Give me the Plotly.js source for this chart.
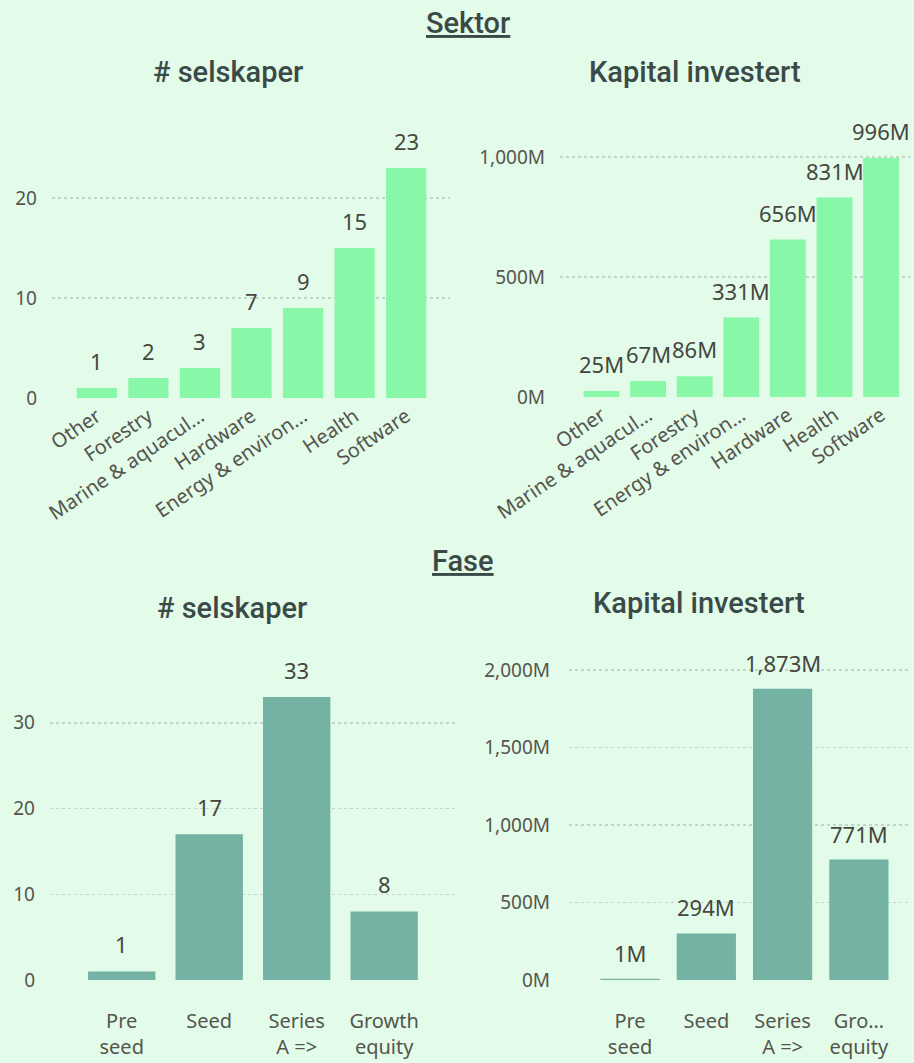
<!DOCTYPE html>
<html>
<head>
<meta charset="utf-8">
<script src="https://cdn.plot.ly/plotly-3.0.1.min.js"></script>
<style>
html,body{margin:0;padding:0;background:#e3fbe9;}
#chart{width:914px;height:1063px;}
</style>
</head>
<body>
<div id="chart"></div>
<script>
// ---- Data ----
const sektorCountCats = ["Other", "Forestry", "Marine & aquacul…", "Hardware", "Energy & environ…", "Health", "Software"];
const sektorCountVals = [1, 2, 3, 7, 9, 15, 23];

const sektorKapCats = ["Other", "Marine & aquacul…", "Forestry", "Energy & environ…", "Hardware", "Health", "Software"];
const sektorKapVals = [25, 67, 86, 331, 656, 831, 996]; // millions

const faseCountCats = ["Pre<br>seed", "Seed", "Series<br>A =>", "Growth<br>equity"];
const faseCountVals = [1, 17, 33, 8];

const faseKapCats = ["Pre<br>seed", "Seed", "Series<br>A =>", "Gro…<br>equity"];
const faseKapVals = [1, 294, 1873, 771]; // millions

// ---- Styles ----
const BG = "#e3fbe9";
const TOP_COLOR = "#88f8a8";
const BOT_COLOR = "#74b3a3";
const TICK_COLOR = "#55554e";
const LABEL_COLOR = "#45473f";
const TITLE_COLOR = "#3b4a47";
const GRID = "#c3d4c8";
const FONT = "Noto Sans, Open Sans, sans-serif";
const TFONT = "Roboto, Noto Sans, sans-serif";

const W = 914, H = 1063;
const px = v => v / W;
const py = v => 1 - v / H;

function fmtM(v) { return v.toLocaleString("en-US") + "M"; }

const traces = [
  {type: "bar", x: sektorCountCats, y: sektorCountVals, xaxis: "x", yaxis: "y",
   marker: {color: TOP_COLOR}, width: 0.78, hoverinfo: "none"},
  {type: "bar", x: sektorKapCats, y: sektorKapVals, xaxis: "x2", yaxis: "y2",
   marker: {color: TOP_COLOR}, width: 0.77, hoverinfo: "none"},
  {type: "bar", x: faseCountCats, y: faseCountVals, xaxis: "x3", yaxis: "y3",
   marker: {color: BOT_COLOR}, width: 0.77, hoverinfo: "none"},
  {type: "bar", x: faseKapCats, y: faseKapVals, xaxis: "x4", yaxis: "y4",
   marker: {color: BOT_COLOR, line: {color: BOT_COLOR, width: 2}}, width: 0.75, hoverinfo: "none"}
];

function yax(domain, range, tickvals, ticktext) {
  return {
    domain: domain, range: range, tickvals: tickvals, ticktext: ticktext,
    showgrid: true, gridcolor: GRID, griddash: "dot", gridwidth: 1.5,
    zeroline: false, showline: false, ticks: "",
    ticklabelstandoff: 14,
    tickfont: {family: FONT, size: 19, color: TICK_COLOR},
    fixedrange: true
  };
}
function xax(domain, range, angle, anchor, standoff) {
  return {
    domain: domain, range: range, type: "category", anchor: anchor,
    tickangle: angle, showgrid: false, zeroline: false, showline: false, ticks: "",
    ticklabelstandoff: standoff,
    tickfont: {family: FONT, size: 20, color: TICK_COLOR},
    fixedrange: true
  };
}

const annotations = [];
function addLabels(cats, vals, xr, yr, fmt) {
  cats.forEach((c, i) => {
    annotations.push({
      xref: xr, yref: yr, x: c, y: vals[i], text: fmt(vals[i]),
      showarrow: false, yanchor: "bottom", yshift: 10,
      font: {family: FONT, size: 22, color: LABEL_COLOR}
    });
  });
}
addLabels(sektorCountCats, sektorCountVals, "x", "y", v => String(v));
addLabels(sektorKapCats, sektorKapVals, "x2", "y2", fmtM);
addLabels(faseCountCats, faseCountVals, "x3", "y3", v => String(v));
addLabels(faseKapCats, faseKapVals, "x4", "y4", fmtM);

function title(text, x, y, size) {
  annotations.push({xref: "paper", yref: "paper", x: px(x), y: py(y), text: text,
    showarrow: false, xanchor: "center", yanchor: "middle",
    font: {family: TFONT, size: size, color: TITLE_COLOR, weight: 500}});
}
title("<u>Sektor</u>", 468, 23, 29);
title("# selskaper", 228, 72, 29);
title("Kapital investert", 695, 72, 29);
title("<u>Fase</u>", 463, 561, 29);
title("# selskaper", 232, 608, 29);
title("Kapital investert", 699, 603, 29);

const layout = {
  width: W, height: H,
  paper_bgcolor: BG, plot_bgcolor: BG,
  margin: {l: 0, r: 0, t: 0, b: 0},
  showlegend: false,
  bargap: 0.2,
  xaxis: xax([px(52), px(450)], [-0.87, 6.85], -34, "y", 2),
  yaxis: yax([py(398), py(138)], [0, 26], [0, 10, 20], ["0", "10", "20"]),
  xaxis2: xax([px(560), px(910)], [-0.89, 6.62], -34, "y2", 2),
  yaxis2: yax([py(397), py(133)], [0, 1100], [0, 500, 1000], ["0M", "500M", "1,000M"]),
  xaxis3: xax([px(50), px(455)], [-0.82, 3.81], 0, "y3", 27),
  yaxis3: yax([py(980), py(671.4)], [0, 36], [0, 10, 20, 30], ["0", "10", "20", "30"]),
  xaxis4: xax([px(569), px(910)], [-0.8, 3.67], 0, "y4", 27),
  yaxis4: yax([py(980), py(654.5)], [0, 2100], [0, 500, 1000, 1500, 2000], ["0M", "500M", "1,000M", "1,500M", "2,000M"]),
  annotations: annotations
};
layout.yaxis.anchor = "x";
layout.yaxis2.anchor = "x2";
layout.yaxis3.anchor = "x3";
layout.yaxis4.anchor = "x4";
layout.yaxis4.ticklabelstandoff = 18;

Plotly.newPlot("chart", traces, layout, {displayModeBar: false, staticPlot: true});
</script>
</body>
</html>
